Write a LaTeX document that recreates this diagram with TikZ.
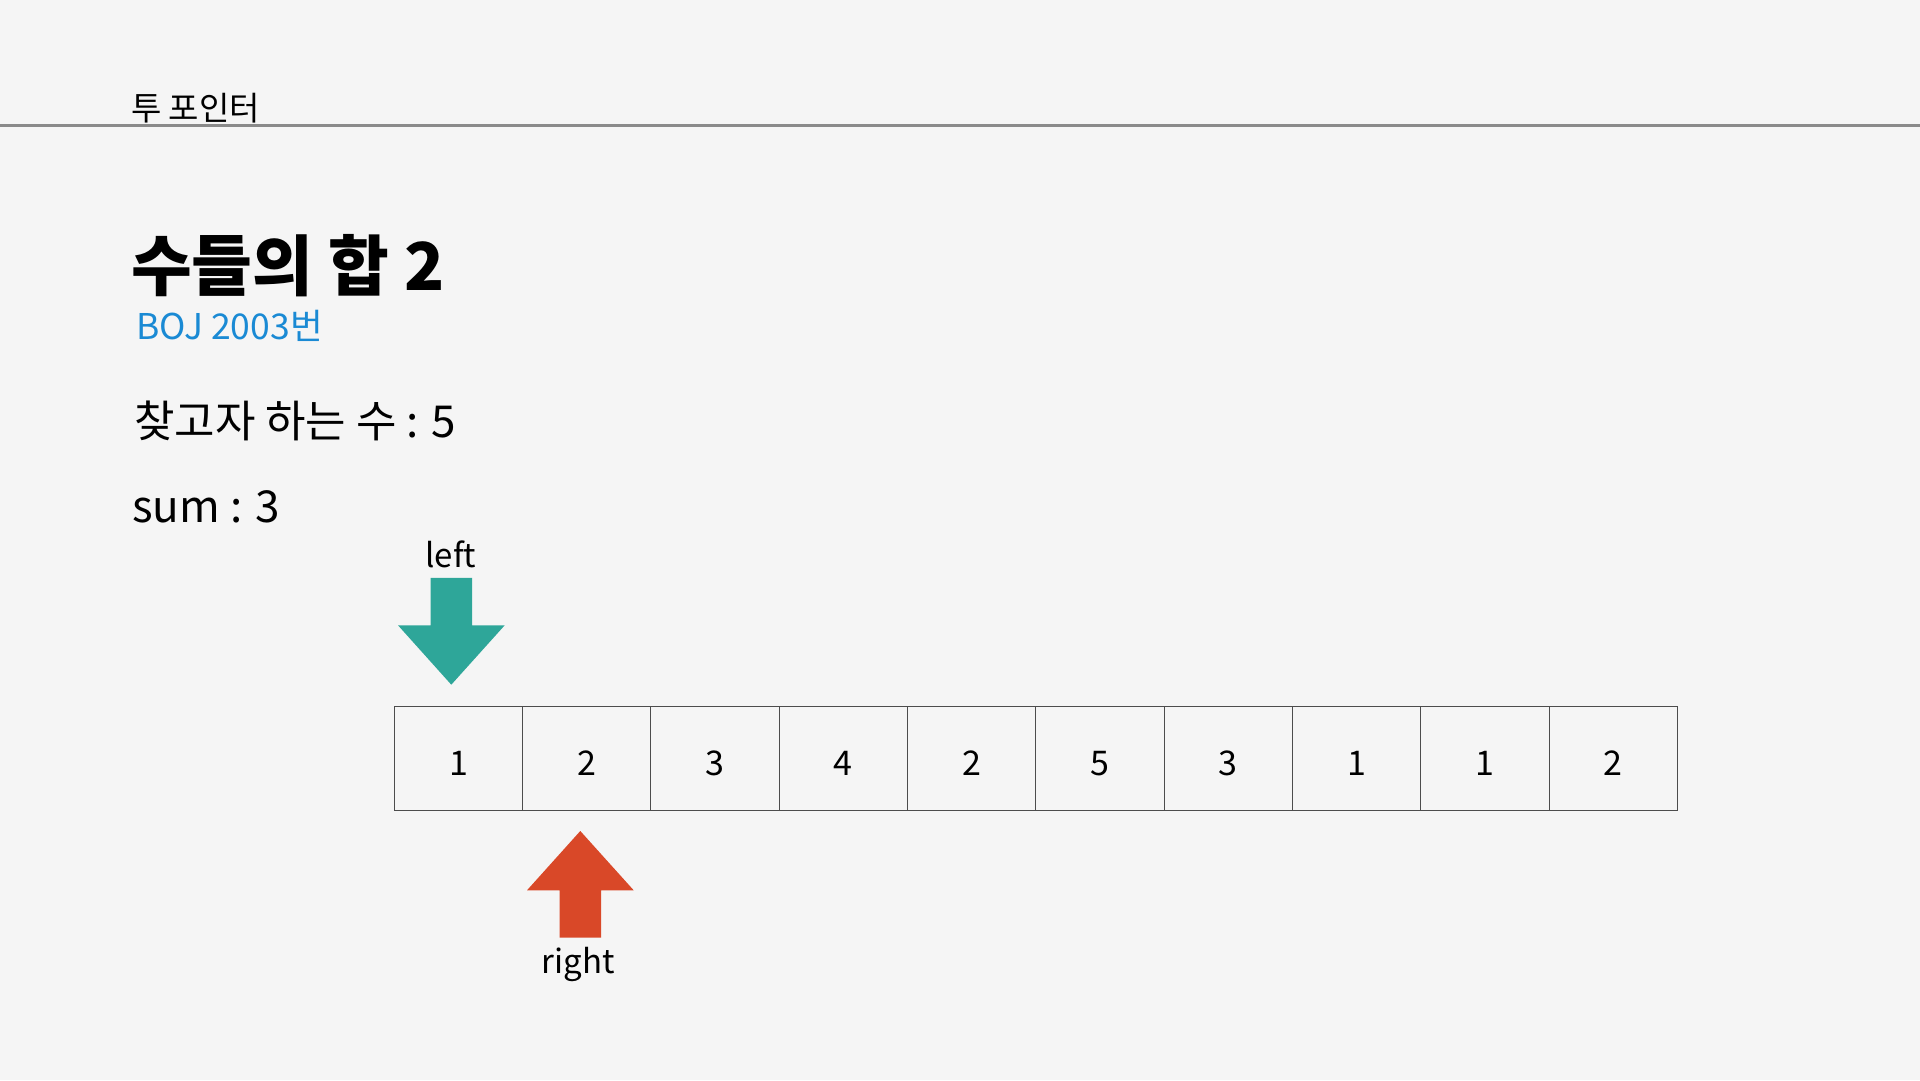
\documentclass[tikz,border=0pt]{standalone}
\usepackage{fontspec}
\setmainfont{Noto Sans CJK KR}
\usetikzlibrary{positioning}

\definecolor{bgcol}{HTML}{F5F5F5}
\definecolor{leftcol}{HTML}{2EA699}
\definecolor{rightcol}{HTML}{D94828}
\definecolor{bojblue}{HTML}{1A8AD4}
\definecolor{rulegray}{HTML}{8A8A8A}

\tikzset{
  cell/.style={draw=black!70, line width=1pt, minimum width=128.3pt, minimum height=104pt, inner sep=0pt, text height=34pt, text depth=0pt, font=\fontsize{34}{34}\selectfont},
  plain/.style={anchor=base west, inner sep=0pt},
  ptrlabel/.style={anchor=base, inner sep=0pt, font=\fontsize{33}{33}\selectfont},
}

\begin{document}
\begin{tikzpicture}[x=1pt,y=1pt]

\fill[bgcol] (0,0) rectangle (1920,1080);
\useasboundingbox (0,0) rectangle (1920,1080);

% header
\node[plain, font=\fontsize{33}{33}\selectfont] (header) at (131,959) {투 포인터};
\draw[line width=2.5pt, rulegray] (0,954.5) -- (1920,954.5);

\node[plain, font=\fontsize{66}{66}\selectfont\bfseries] (title) at (131,789) {수들의 합 2};
\node[plain, font=\fontsize{35.5}{35.5}\selectfont, text=bojblue] (boj) at (136,740) {BOJ 2003번};

\node[plain, font=\fontsize{44}{44}\selectfont] (target) at (134,642) {찾고자 하는 수 : 5};
\node[plain, font=\fontsize{44}{44}\selectfont] (sum) at (132,557) {sum : 3};

% array
\foreach \v [count=\i] in {1,2,3,4,2,5,3,1,1,2}
  \node[cell] (c\i) at ({394.3+128.3*(\i-0.5)},321.3) {\v};

% left pointer
\coordinate (lefttip) at (451.3,395.3);
\fill[leftcol] (lefttip) -- ++(53.4,59.4) -- ++(-32.7,0) -- ++(0,47.3) -- ++(-41.3,0) -- ++(0,-47.3) -- ++(-32.7,0) -- cycle;
\node[ptrlabel] (leftlbl) at (451,512) {left};

% right pointer
\coordinate (righttip) at (580.3,249);
\fill[rightcol] (righttip) -- ++(53.4,-59.3) -- ++(-32.7,0) -- ++(0,-47.4) -- ++(-41.3,0) -- ++(0,47.4) -- ++(-32.7,0) -- cycle;
\node[ptrlabel] (rightlbl) at (578,107) {right};

\end{tikzpicture}
\end{document}
